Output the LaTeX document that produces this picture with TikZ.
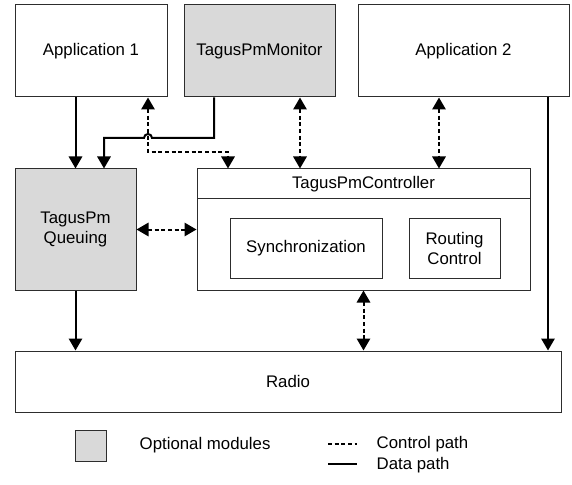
\documentclass[tikz,border=0pt]{standalone}
\usepackage{fontspec}
\setmainfont{Liberation Sans}
\usetikzlibrary{arrows.meta}
\definecolor{optgray}{RGB}{217,217,217}
\definecolor{edgegray}{RGB}{45,45,45}
\tikzset{
  box/.style={draw=edgegray, line width=0.75pt, fill=white, inner sep=0pt, align=center, font=\fontsize{12.6}{15}\selectfont},
  opt/.style={box, fill=optgray},
  datap/.style={line width=1.5pt, -{Triangle[length=9pt,width=10pt]}},
  ctrlp/.style={line width=1.5pt, dash pattern=on 3pt off 2pt, {Triangle[length=9pt,width=10pt]}-{Triangle[length=9pt,width=10pt]}},
  legtext/.style={anchor=west, font=\fontsize{12.6}{15}\selectfont}
}
\begin{document}
\begin{tikzpicture}[x=0.75pt,y=-0.75pt]
\useasboundingbox (0,0) rectangle (572,485);
% boxes
\node[box, minimum width=114pt, minimum height=69pt] (app1) at (91,51) {Application 1};
\node[opt, minimum width=113.25pt, minimum height=69pt] (mon) at (259.5,51) {TagusPmMonitor};
\node[box, minimum width=158.25pt, minimum height=69pt] (app2) at (463.5,51) {Application 2};
\node[opt, minimum width=90.75pt, minimum height=90.75pt] (queue) at (75.5,229.5) {TagusPm\\Queuing};
\node[box, minimum width=249.75pt, minimum height=90.75pt] (ctrl) at (363.5,229.5) {};
\node[box, minimum width=249.75pt, minimum height=22.5pt] (hdr) at (363.5,184) {TagusPmController};
\node[box, minimum width=114pt, minimum height=45pt] (sync) at (306,248) {Synchronization};
\node[box, minimum width=68.25pt, minimum height=45pt] (rout) at (454.5,248) {Routing\\Control};
\node[box, minimum width=409.5pt, minimum height=45.75pt] (radio) at (288,381.5) {Radio};
% data paths
\draw[datap] (app1.south -| queue.north) -- (queue.north);
\draw[datap] (mon.south -| 214,0) -- (214,138) -- (152,138)
  arc[start angle=0, end angle=180, radius=3pt] -- (104,138) -- (queue.north -| 104,0);
\draw[datap] (app2.south -| 548,0) -- (radio.north -| 548,0);
\draw[datap] (queue.south) -- (radio.north -| queue.south);
% control paths
\draw[ctrlp] (app1.south -| 148,0) -- (148,152) -| (ctrl.north -| 228,0);
\draw[ctrlp] (mon.south -| 300,0) -- (ctrl.north -| 300,0);
\draw[ctrlp] (app2.south -| 439,0) -- (ctrl.north -| 439,0);
\draw[ctrlp] (queue.east) -- (ctrl.west);
\draw[ctrlp] (ctrl.south) -- (radio.north -| ctrl.south);
% legend
\node[opt, minimum width=23.25pt, minimum height=23.25pt] (legbox) at (90.5,445.5) {};
\node[legtext] (legopt) at (135,445) {Optional modules};
\coordinate (lc1) at (328,444);
\coordinate (lc2) at (357,444);
\draw[line width=1.5pt, dash pattern=on 3pt off 2pt] (lc1) -- (lc2);
\node[legtext] (legctrl) at (372,444) {Control path};
\coordinate (ld1) at (328,464);
\coordinate (ld2) at (357,464);
\draw[line width=1.5pt] (ld1) -- (ld2);
\node[legtext] (legdata) at (372,465) {Data path};
\end{tikzpicture}
\end{document}
